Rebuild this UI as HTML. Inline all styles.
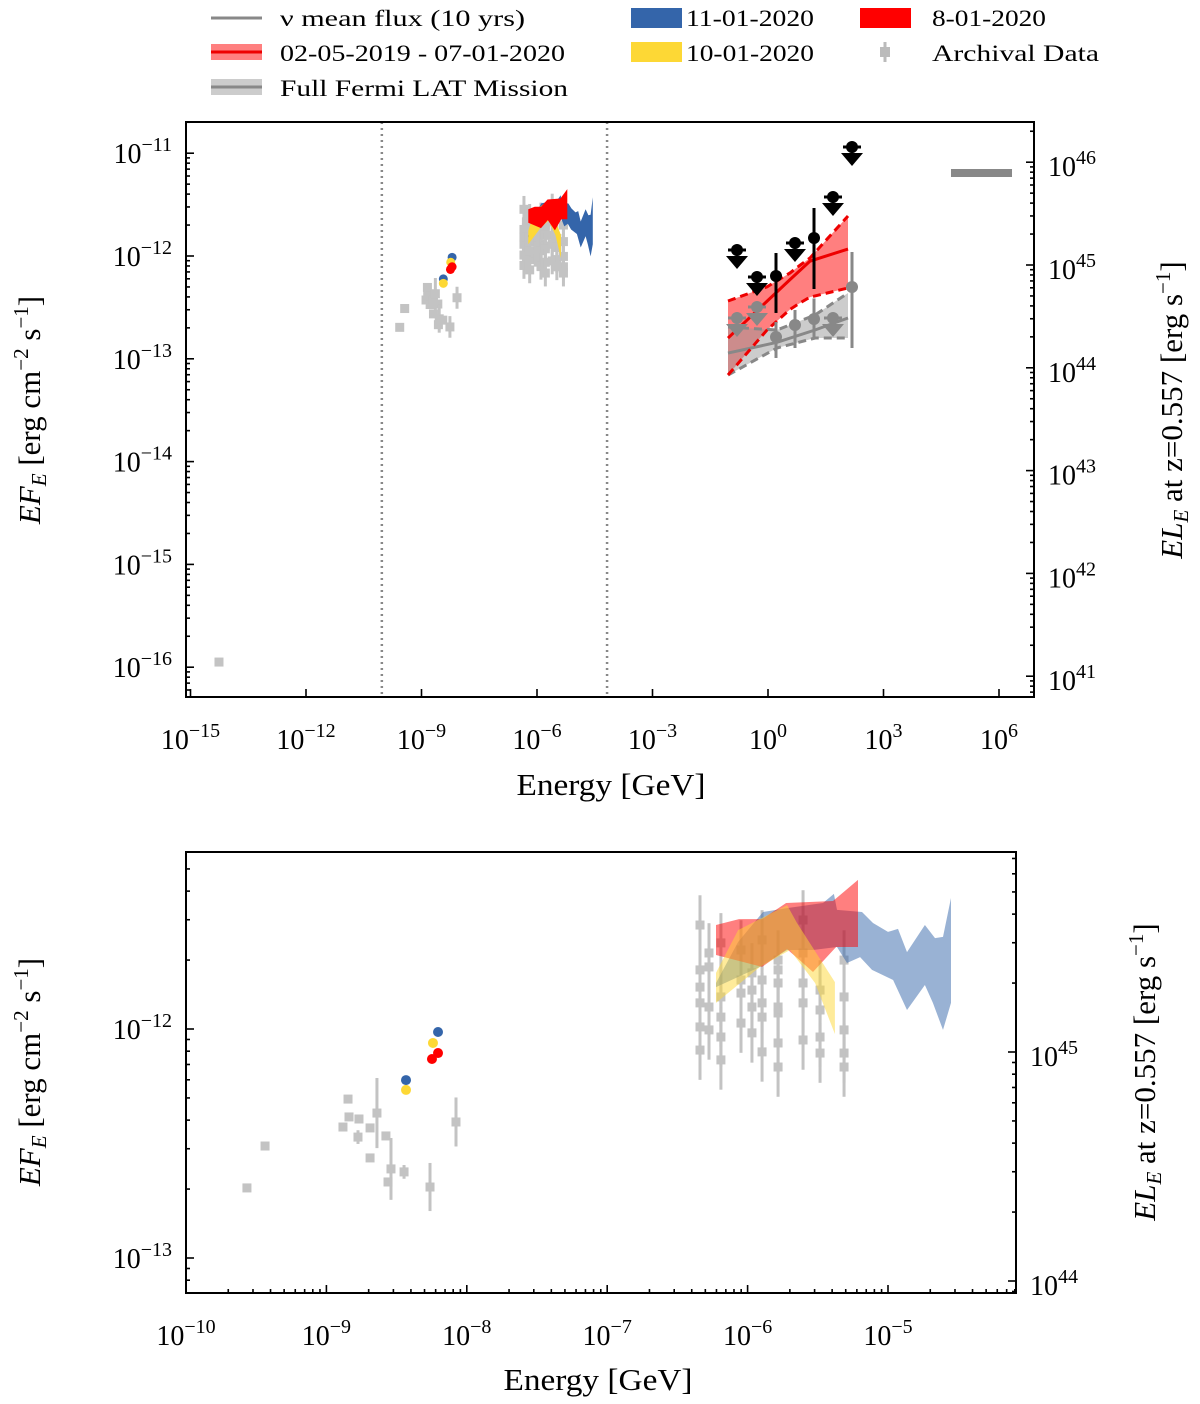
<!DOCTYPE html>
<html><head><meta charset="utf-8"><style>
html,body{margin:0;background:#fff;overflow:hidden;width:1200px;height:1404px}
svg{display:block;font-family:"Liberation Serif",serif}
</style></head><body>
<svg id="svg" width="1200" height="1404" viewBox="0 0 1200 1404" xmlns="http://www.w3.org/2000/svg">
<defs>
<clipPath id="clipTop"><rect x="186" y="122" width="848" height="575"/></clipPath>
<clipPath id="clipBot"><rect x="186" y="852" width="830" height="441"/></clipPath>
</defs>
<g font-size="23">
 <g><line x1="211" y1="18" x2="262" y2="18" stroke="#888" stroke-width="3"/><text x="280" y="26" textLength="245" lengthAdjust="spacingAndGlyphs">ν mean flux (10 yrs)</text></g>
 <g><rect x="211" y="44" width="51" height="16" fill="#ff7f7f"/><line x1="211" y1="52" x2="262" y2="52" stroke="#e00" stroke-width="3"/><text x="280" y="61" textLength="285" lengthAdjust="spacingAndGlyphs">02-05-2019 - 07-01-2020</text></g>
 <g><rect x="211" y="79" width="51" height="16" fill="#ccc"/><line x1="211" y1="87" x2="262" y2="87" stroke="#888" stroke-width="3"/><text x="280" y="96" textLength="288" lengthAdjust="spacingAndGlyphs">Full Fermi LAT Mission</text></g>
 <g><rect x="631" y="8" width="51" height="20" fill="#3465aa"/><text x="686" y="26" textLength="128" lengthAdjust="spacingAndGlyphs">11-01-2020</text></g>
 <g><rect x="631" y="42" width="51" height="20" fill="#fdd835"/><text x="686" y="61" textLength="128" lengthAdjust="spacingAndGlyphs">10-01-2020</text></g>
 <g><rect x="860" y="8" width="51" height="20" fill="#f00"/><text x="932" y="26" textLength="114" lengthAdjust="spacingAndGlyphs">8-01-2020</text></g>
 <g><rect x="880" y="47" width="10" height="10" fill="#bbb"/><line x1="885" y1="42" x2="885" y2="62" stroke="#bbb" stroke-width="3"/><text x="932" y="61" textLength="167" lengthAdjust="spacingAndGlyphs">Archival Data</text></g>
</g>
<g id="top"></g>
<g id="bot"></g>
</svg>
<script>
// ---- data (log10 energy GeV, log10 flux erg/cm2/s) ----
const arcE=[-9.566,-9.437,-8.846,-8.839,-8.882,-8.768,-8.775,-8.689,-8.640,-8.576,-8.689,-8.540,-8.561,-8.447,-8.262,-8.077,-14.26];
const arcF=[-12.694,-12.511,-12.306,-12.384,-12.428,-12.393,-12.472,-12.432,-12.367,-12.467,-12.563,-12.611,-12.668,-12.624,-12.690,-12.406,-15.95];
const arcErr=[0.01,0.01,0.01,0.01,0.01,0.01,0.03,0.01,0.153,0.01,0.01,0.135,0.01,0.03,0.105,0.107,0.01];
const optE=[-6.339,-6.339,-6.339,-6.339,-6.339,-6.339,-6.275,-6.275,-6.275,-6.275,-6.19,-6.19,-6.19,-6.19,-6.19,-6.047,-6.047,-6.047,-6.047,-5.969,-5.969,-5.969,-5.969,-5.897,-5.897,-5.897,-5.897,-5.897,-5.783,-5.783,-5.783,-5.783,-5.783,-5.783,-5.783,-5.605,-5.605,-5.605,-5.605,-5.605,-5.484,-5.484,-5.484,-5.484,-5.313,-5.313,-5.313,-5.313,-5.313];
const optF=[-11.546,-11.742,-11.817,-11.886,-11.991,-12.092,-11.668,-11.729,-11.904,-12.004,-11.624,-11.860,-11.948,-12.035,-12.135,-11.655,-11.786,-11.843,-11.974,-11.755,-11.830,-11.904,-12.017,-11.611,-11.786,-11.886,-11.948,-12.100,-11.699,-11.742,-11.799,-11.904,-11.930,-12.061,-12.166,-11.524,-11.668,-11.799,-11.886,-12.048,-11.830,-11.917,-12.035,-12.105,-11.699,-11.860,-12.004,-12.105,-12.166];
const optErr=0.13;
// flare points [E, F]
const ptBlueE=[-8.433,-8.205], ptBlueF=[-12.223,-12.013];
const ptYelE=[-8.433,-8.241], ptYelF=[-12.266,-12.061];
const ptRedE=[-8.205,-8.248], ptRedF=[-12.105,-12.131];
// bands: upper edge then lower edge (energy, flux)
const blueUpE=[-6.225,-6.068,-5.890,-5.719,-5.463,-5.385,-5.363,-5.185,-5.107,-5.0,-4.929,-4.865,-4.737,-4.665,-4.608,-4.551];
const blueUpF=[-11.799,-11.620,-11.489,-11.472,-11.450,-11.410,-11.480,-11.489,-11.537,-11.576,-11.563,-11.664,-11.546,-11.603,-11.598,-11.428];
const blueLoE=[-4.551,-4.608,-4.680,-4.737,-4.865,-4.964,-5.114,-5.199,-5.292,-5.363,-5.534,-5.719,-5.912,-6.225];
const blueLoF=[-11.886,-12.004,-11.886,-11.808,-11.917,-11.786,-11.742,-11.686,-11.712,-11.642,-11.655,-11.655,-11.729,-11.817];
const redUpE=[-6.225,-6.061,-5.897,-5.726,-5.392,-5.214];
const redUpF=[-11.546,-11.520,-11.520,-11.450,-11.441,-11.349];
const redLoE=[-5.214,-5.370,-5.534,-5.719,-5.897,-6.225];
const redLoF=[-11.642,-11.642,-11.751,-11.651,-11.729,-11.677];
const yelUpE=[-6.225,-6.068,-5.719,-5.648,-5.378];
const yelUpF=[-11.755,-11.568,-11.459,-11.537,-11.795];
const yelLoE=[-5.378,-5.519,-5.698,-5.912,-6.225];
const yelLoF=[-12.022,-11.799,-11.655,-11.729,-11.886];
// Fermi LAT bowties (top panel)
const flE=[-1.039,-0.026,0.571,0.831,1.091,2.078];
const flUp=[-12.438,-12.30,-12.165,-12.09,-12.019,-11.611];
const flLo=[-13.158,-12.720,-12.52,-12.457,-12.40,-12.311];
const flLine=[-12.798,-12.44,-12.23,-12.14,-12.05,-11.932];
const ffE=[-1.039,0.234,1.221,2.078];
const ffUp=[-12.691,-12.720,-12.574,-12.360];
const ffLo=[-13.158,-12.895,-12.798,-12.798];
const ffLine=[-12.944,-12.84,-12.72,-12.603];
// LAT data points
const blkE=[-0.805,-0.286,0.208,0.701,1.195,1.688,2.182];
const blkF=[-11.942,-12.204,-12.195,-11.874,-11.825,-11.426,-10.940];
const blkUL=[1,1,0,1,0,1,1];
const blkErrUp=[0,0,0.224,0,0.292,0,0];
const blkErrDn=[0,0,0.359,0,0.496,0,0];
const gryE=[-0.805,-0.286,0.208,0.701,1.195,1.688,2.182];
const gryF=[-12.603,-12.496,-12.788,-12.671,-12.613,-12.603,-12.302];
const gryUL=[1,1,0,0,0,1,0];
const gryErrUp=[0,0,0.146,0.146,0.2,0,0.341];
const gryErrDn=[0,0,0.204,0.224,0.2,0,0.593];
const nuE=[4.753,6.338], nuF=-11.193;

const NS="http://www.w3.org/2000/svg";
function mk(parent,tag,attrs,text){const e=document.createElementNS(NS,tag);for(const k in attrs)e.setAttribute(k,attrs[k]);if(text!==undefined)e.textContent=text;parent.appendChild(e);return e;}

const P={
 top:{g:document.getElementById('top'),X:l=>768+l*38.5,Y:l=>256-(l+12)*102.8,YL:l=>265-(l-45)*102.8,x0:186,x1:1034,y0:122,y1:697,clip:'clipTop',opaque:true,
   xt:[-15,-12,-9,-6,-3,0,3,6],xminor:false,yt:[-16,-15,-14,-13,-12,-11],yL:[41,42,43,44,45,46]},
 bot:{g:document.getElementById('bot'),X:l=>186+(l+10)*140.4,Y:l=>1029-(l+12)*229,YL:l=>1052-(l-45)*229,x0:186,x1:1016,y0:852,y1:1293,clip:'clipBot',opaque:false,
   xt:[-10,-9,-8,-7,-6,-5],xminor:true,yt:[-13,-12],yL:[44,45]}
};

function supLabel(g,x,y,exp,anchor,name){
 const t=mk(g,'text',{x:x,y:y,'font-size':28,'text-anchor':anchor});
 
 
 mk(t,'tspan',{},'10');
 mk(t,'tspan',{dy:-12,'font-size':20},(exp<0?'\u2212':'')+Math.abs(exp));
}
function poly(g,xs,ys,p,fill,op,name){
 const pts=xs.map((e,i)=>p.X(e).toFixed(1)+','+p.Y(ys[i]).toFixed(1)).join(' ');
 const e=mk(g,'polygon',{points:pts,fill:fill,'fill-opacity':op});
 
 
}
function band(g,p,uE,uF,lE,lF,fill,op,name){poly(g,uE.concat(lE),uF.concat(lF),p,fill,op,name);}

function drawPanel(key){
 const p=P[key],g=p.g;
 const c=mk(g,'g',{'clip-path':'url(#'+p.clip+')'});
 
 
 if(key==='top'){
  [-10.03,-4.18].forEach(v=>{const l=mk(c,'line',{x1:p.X(v),x2:p.X(v),y1:p.y0,y2:p.y1,stroke:'#888','stroke-width':2.5,'stroke-dasharray':'2,4'});
   
   });
 }
 const ga=mk(c,'g',{opacity:0.5,fill:'#888',stroke:'#888'});
 
 
 const allE=arcE.concat(optE), allF=arcF.concat(optF), allErr=arcErr.concat(optE.map(()=>optErr));
 allE.forEach((e,i)=>{
  const x=p.X(e),y=p.Y(allF[i]);
  mk(ga,'line',{x1:x,x2:x,y1:p.Y(allF[i]+allErr[i]),y2:p.Y(allF[i]-allErr[i]),'stroke-width':3});
  const r=mk(ga,'rect',{x:x-4.5,y:y-4.5,width:9,height:9,stroke:'none'});
  
  
 });
 const op=p.opaque?1:0.5;
 band(c,p,blueUpE,blueUpF,blueLoE,blueLoF,'#3465aa',op,'band-11-01-2020');
 if(p.opaque){
  band(c,p,yelUpE,yelUpF,yelLoE,yelLoF,'#fdd835',op,'band-10-01-2020');
  band(c,p,redUpE,redUpF,redLoE,redLoF,'#ff0000',op,'band-8-01-2020');
 } else {
  band(c,p,redUpE,redUpF,redLoE,redLoF,'#ff0000',op,'band-8-01-2020');
  band(c,p,yelUpE,yelUpF,yelLoE,yelLoF,'#fdd835',op,'band-10-01-2020');
 }
 const dots=(E,F,col,name)=>E.forEach((e,i)=>{const d=mk(c,'circle',{cx:p.X(e),cy:p.Y(F[i]),r:key==='top'?4.5:5,fill:col});
   
   });
 dots(ptBlueE,ptBlueF,'#3465aa','point-11-01-2020');
 dots(ptYelE,ptYelF,'#fdd835','point-10-01-2020');
 dots(ptRedE,ptRedF,'#ff0000','point-8-01-2020');
 if(key==='top'){
  band(c,p,flE,flUp,flE.slice().reverse(),flLo.slice().reverse(),'#ff0000',0.5,'fermi-red-bowtie');
  band(c,p,ffE,ffUp,ffE.slice().reverse(),ffLo.slice().reverse(),'#999',0.5,'fermi-full-bowtie');
  const ln=(E,F,col,dash,name)=>{const l=mk(c,'polyline',{points:E.map((e,i)=>p.X(e)+','+p.Y(F[i])).join(' '),fill:'none',stroke:col,'stroke-width':3,'stroke-dasharray':dash});
   
   };
  ln(ffE,ffUp,'#888','8,5','fermi-full-upper');ln(ffE,ffLo,'#888','8,5','fermi-full-lower');ln(ffE,ffLine,'#888','','fermi-full-line');
  ln(flE,flUp,'#e00','8,5','fermi-red-upper');ln(flE,flLo,'#e00','8,5','fermi-red-lower');ln(flE,flLine,'#e00','','fermi-red-line');
  const pts=(E,F,UL,eu,ed,col,name)=>E.forEach((e,i)=>{
   const x=p.X(e),y=p.Y(F[i]);
   const gg=mk(c,'g',{fill:col,stroke:col});
   
   
   if(UL[i]){mk(gg,'line',{x1:x-9,x2:x+9,y1:y,y2:y,'stroke-width':3});mk(gg,'line',{x1:x,x2:x,y1:y,y2:y+12,'stroke-width':3});
     mk(gg,'polygon',{points:`${x-11},${y+6} ${x+11},${y+6} ${x},${y+19}`,stroke:'none'});}
   else mk(gg,'line',{x1:x,x2:x,y1:p.Y(F[i]+eu[i]),y2:p.Y(F[i]-ed[i]),'stroke-width':3});
   mk(gg,'circle',{cx:x,cy:y,r:6,stroke:'none'});
  });
  pts(gryE,gryF,gryUL,gryErrUp,gryErrDn,'#888','lat-full-point');
  pts(blkE,blkF,blkUL,blkErrUp,blkErrDn,'#000','lat-flare-point');
  const nb=mk(c,'line',{x1:p.X(nuE[0]),x2:p.X(nuE[1]),y1:p.Y(nuF),y2:p.Y(nuF),stroke:'#888','stroke-width':8});
  
  
 }
 const fr=mk(g,'rect',{x:p.x0,y:p.y0,width:p.x1-p.x0,height:p.y1-p.y0,fill:'none',stroke:'#000','stroke-width':2});
 
 
 const ax=mk(g,'g',{stroke:'#000','stroke-width':1.6});
 
 
 p.xt.forEach(v=>{const x=p.X(v);mk(ax,'line',{x1:x,x2:x,y1:p.y1,y2:p.y1-8});
   supLabel(g,x,p.y1+52,v,'middle',key+'-x-tick-label');});
 if(p.xminor){for(let d=-10;d<-4;d++)for(let m=2;m<10;m++){const x=p.X(d+Math.log10(m));if(x<p.x1)mk(ax,'line',{x1:x,x2:x,y1:p.y1,y2:p.y1-4});}}
 const ylo=key==='top'?-17:-14, yhi=key==='top'?-10:-11;
 for(let d=ylo;d<yhi;d++)for(let m=1;m<10;m++){const v=d+Math.log10(m),y=p.Y(v);if(y>p.y0&&y<p.y1)mk(ax,'line',{x1:p.x0,x2:p.x0+(m===1?8:4),y1:y,y2:y});}
 p.yt.forEach(v=>supLabel(g,p.x0-14,p.Y(v)+10,v,'end',key+'-y-tick-label'));
 for(let d=40;d<48;d++)for(let m=1;m<10;m++){const v=d+Math.log10(m),y=p.YL(v);if(y>p.y0&&y<p.y1)mk(ax,'line',{x1:p.x1,x2:p.x1-(m===1?8:4),y1:y,y2:y});}
 p.yL.forEach(v=>supLabel(g,p.x1+14,p.YL(v)+14,v,'start',key+'-right-tick-label'));
}
drawPanel('top');drawPanel('bot');

const svg=document.getElementById('svg');
function axisLabel(x,y,rot,html,name){
 const t=mk(svg,'text',{x:x,y:y,'font-size':31,'text-anchor':'middle',transform:rot?`rotate(-90 ${x} ${y})`:''});
 
 
 t.innerHTML=html;
}
const yl='<tspan font-style="italic">EF</tspan><tspan font-style="italic" font-size="21" dy="6">E</tspan><tspan dy="-6"> [erg cm</tspan><tspan font-size="21" dy="-12">\u22122</tspan><tspan dy="12"> s</tspan><tspan font-size="21" dy="-12">\u22121</tspan><tspan dy="12">]</tspan>';
const yr='<tspan font-style="italic">EL</tspan><tspan font-style="italic" font-size="21" dy="6">E</tspan><tspan dy="-6"> at z=0.557 [erg s</tspan><tspan font-size="21" dy="-12">\u22121</tspan><tspan dy="12">]</tspan>';
axisLabel(611,795,false,'<tspan textLength="189" lengthAdjust="spacingAndGlyphs">Energy [GeV]</tspan>','top-x-axis-title');
axisLabel(598,1390,false,'<tspan textLength="189" lengthAdjust="spacingAndGlyphs">Energy [GeV]</tspan>','bottom-x-axis-title');
axisLabel(40,410,true,yl,'top-y-axis-title');
axisLabel(40,1072,true,yl,'bottom-y-axis-title');
axisLabel(1182,410,true,yr,'top-right-axis-title');
axisLabel(1155,1072,true,yr,'bottom-right-axis-title');
</script>
</body></html>
